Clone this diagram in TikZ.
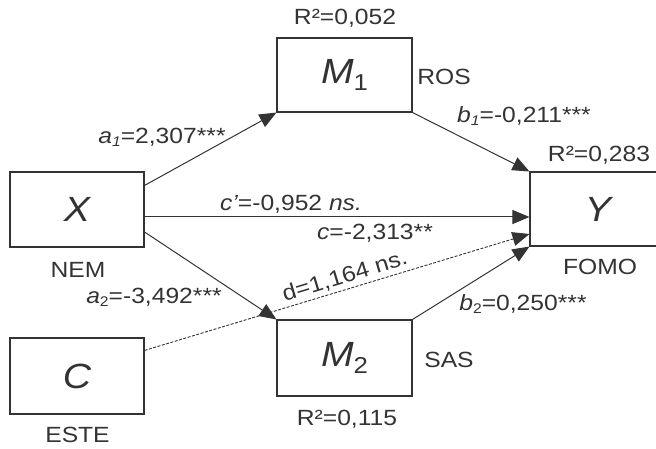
\documentclass[tikz,border=0pt]{standalone}
\usepackage{fontspec}
\setmainfont{Liberation Sans}[FakeStretch=1.12]
\usetikzlibrary{arrows.meta}
\definecolor{ink}{HTML}{333333}
\newcommand{\sbs}[1]{\raisebox{-3pt}{\fontsize{14}{15}\selectfont #1}}
\newcommand{\msub}[1]{\raisebox{-7pt}{\upshape\fontsize{23}{25}\selectfont #1}}
\begin{document}
\begin{tikzpicture}[x=1pt,y=-1pt,
 box/.style={draw=ink, line width=1.1pt, inner sep=0pt, text=ink,
   font=\fontsize{35}{40}\selectfont\itshape},
 lbl/.style={inner sep=0pt, text=ink, font=\fontsize{22}{26}\selectfont},
 arr/.style={draw=ink, line width=1pt, -{Triangle[length=17pt,width=14pt]}},
 darr/.style={arr, line width=0.9pt, dash pattern=on 3pt off 1.5pt},
]
\useasboundingbox (0,0) rectangle (656,449);
\clip (0,0) rectangle (656,449);
% boxes
\node[box, minimum width=134pt, minimum height=75pt] (X) at (77,209.5) {X};
\node[box, minimum width=134pt, minimum height=76pt] (C) at (77,376) {C};
\node[box, minimum width=135pt, minimum height=74pt] (M1) at (344.5,75) {M\msub{1}};
\node[box, minimum width=135pt, minimum height=76pt] (M2) at (344.5,358) {M\msub{2}};
\node[box, minimum width=136pt, minimum height=74pt] (Y) at (598,209) {Y};
% variable labels
\node[lbl] (nem) at (78,270) {NEM};
\node[lbl] (este) at (77.5,435) {ESTE};
\node[lbl] (ros) at (444,77) {ROS};
\node[lbl] (sas) at (449,360) {SAS};
\node[lbl] (fomo) at (600,267) {FOMO};
\node[lbl] (r1) at (345,18) {R²=0,052};
\node[lbl] (r2) at (347,419) {R²=0,115};
\node[lbl] (ry) at (599,155) {R²=0,283};
% connectors
\draw[arr] ([yshift=-14pt]X.north east) -- (M1.south west);
\draw[arr] ([yshift=-7.5pt]X.east) -- ([yshift=-8pt]Y.west);
\draw[arr] ([yshift=-22.5pt]X.east) -- (M2.north west);
\draw[darr] ([yshift=-13pt]C.north east) -- node[pos=0.53, sloped, above=3pt, lbl] (dl) {d=1,164 ns.} ([yshift=-25pt]Y.west);
\draw[arr] (M1.south east) -- (Y.north west);
\draw[arr] (M2.north east) -- (Y.south west);
% coefficient labels
\node[lbl] (a1) at (162,137) {\itshape a\sbs{1}\upshape=2,307***};
\node[lbl] (b1) at (524,116) {\itshape b\sbs{1}\upshape=-0,211***};
\node[lbl] (a2) at (154,297) {\itshape a\upshape\sbs{2}=-3,492***};
\node[lbl] (b2) at (523,304) {\itshape b\upshape\sbs{2}=0,250***};
\node[lbl] (cp) at (291,204) {\itshape c’\upshape=-0,952 \itshape ns.};
\node[lbl] (cc) at (375,233) {\itshape c\upshape=-2,313**};
\end{tikzpicture}
\end{document}
